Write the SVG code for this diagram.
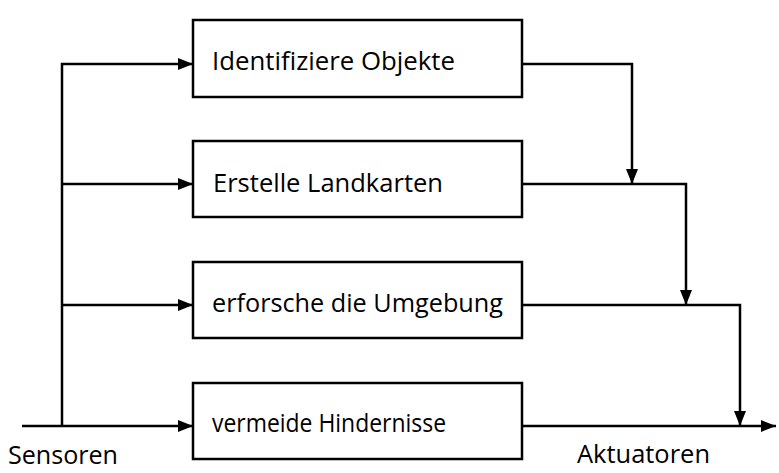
<svg xmlns="http://www.w3.org/2000/svg" width="779" height="473" viewBox="0 0 779 473">
<style>
.box{fill:#fff;stroke:#000;stroke-width:2.5}
.ln{fill:none;stroke:#000;stroke-width:2.5}
text{font-family:"Open Sans","Liberation Sans",sans-serif;font-size:25px;fill:#000}
</style>
<defs>
<marker id="ah" markerUnits="userSpaceOnUse" markerWidth="16" markerHeight="14" viewBox="0 0 16 14" refX="15" refY="7" orient="auto">
<path d="M0,1 L15,7 L0,13 Z" fill="#000"/>
</marker>
</defs>
<rect width="779" height="473" fill="#fff"/>
<g id="connectors">
<path class="ln" d="M22,426 H193" marker-end="url(#ah)"/>
<path class="ln" d="M62,426 V64 H193" marker-end="url(#ah)"/>
<path class="ln" d="M62,184 H193" marker-end="url(#ah)"/>
<path class="ln" d="M62,305 H193" marker-end="url(#ah)"/>
<path class="ln" d="M522,64 H632 V184" marker-end="url(#ah)"/>
<path class="ln" d="M522,184 H686 V305" marker-end="url(#ah)"/>
<path class="ln" d="M522,305 H740 V426" marker-end="url(#ah)"/>
<path class="ln" d="M522,426 H776" marker-end="url(#ah)"/>
</g>
<g id="n1"><rect class="box" x="193" y="20" width="329" height="77"/><text x="212" y="70" textLength="243" lengthAdjust="spacingAndGlyphs">Identifiziere Objekte</text></g>
<g id="n2"><rect class="box" x="193" y="141" width="329" height="76"/><text x="213" y="192" textLength="230" lengthAdjust="spacingAndGlyphs">Erstelle Landkarten</text></g>
<g id="n3"><rect class="box" x="193" y="262" width="329" height="76"/><text x="212" y="312" textLength="291" lengthAdjust="spacingAndGlyphs">erforsche die Umgebung</text></g>
<g id="n4"><rect class="box" x="193" y="383" width="329" height="76"/><text x="212" y="432" textLength="234" lengthAdjust="spacingAndGlyphs">vermeide Hindernisse</text></g>
<g id="sensoren"><text x="8" y="464" textLength="110" lengthAdjust="spacingAndGlyphs">Sensoren</text></g>
<g id="aktuatoren"><text x="577" y="463" textLength="133" lengthAdjust="spacingAndGlyphs">Aktuatoren</text></g>
</svg>
